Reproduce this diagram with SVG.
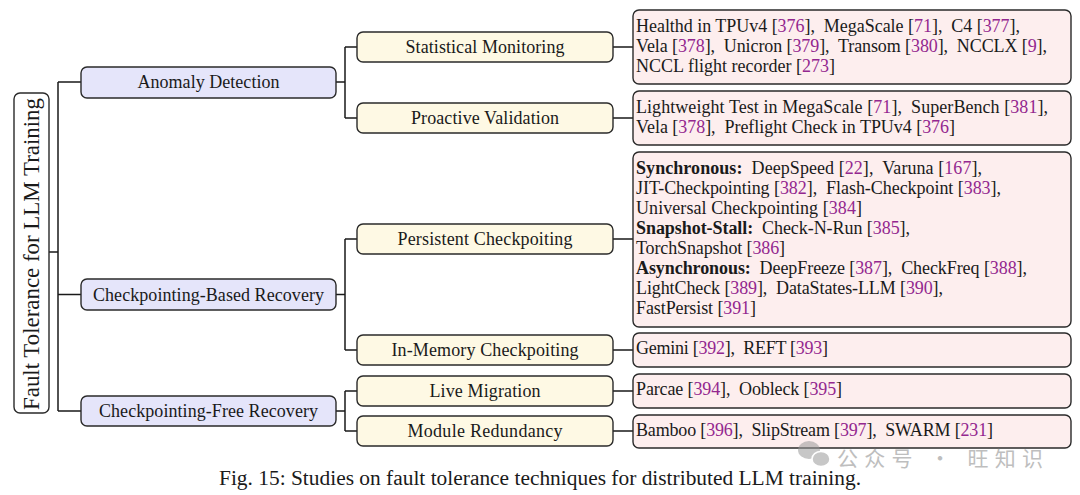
<svg xmlns="http://www.w3.org/2000/svg" width="1080" height="495" viewBox="0 0 1080 495">
<style>
text{font-family:"Liberation Serif","Times New Roman",serif;fill:#1a1a1a;}
.box{stroke:#2a2a2a;stroke-width:1.4;}
.root{fill:#ffffff;}
.l1{fill:#e5e5fa;}
.l2{fill:#fef9e4;}
.leaf{fill:#fdeeee;}
.t1{font-size:18px;text-anchor:middle;}
.tl{font-size:18px;}
.c{fill:#93278f;}
.b{font-weight:bold;}
.conn{fill:none;stroke:#1a1a1a;stroke-width:1.5;}
</style>
<rect width="1080" height="495" fill="#ffffff"/>

<g id="connectors">
<path class="conn" d="M49,252 H58 M58,82 V411 M58,82 H81 M58,294.5 H81 M58,411 H81"/>
<path class="conn" d="M336,82 H345 M345,47 V118 M345,47 H357 M345,118 H357"/>
<path class="conn" d="M336,294.5 H345 M345,239 V350 M345,239 H357 M345,350 H357"/>
<path class="conn" d="M336,411 H345 M345,391 V431 M345,391 H357 M345,431 H357"/>
<path class="conn" d="M613,47 H633 M613,118 H633 M613,239 H633 M613,350 H633 M613,391 H633 M613,431 H633"/>
</g>

<g id="root">
<rect class="box root" x="14" y="93" width="35" height="320" rx="6"/>
<text transform="translate(38.5,254) rotate(-90)" font-size="22.5" text-anchor="middle" textLength="312" lengthAdjust="spacingAndGlyphs">Fault Tolerance for LLM Training</text>
</g>

<g id="anomaly-detection">
<rect class="box l1" x="81" y="67" width="255" height="31" rx="6"/>
<text class="t1" x="208.5" y="88" textLength="142">Anomaly Detection</text>
</g>
<g id="checkpointing-based-recovery">
<rect class="box l1" x="81" y="279" width="255" height="31" rx="6"/>
<text class="t1" x="208.5" y="300.5" textLength="231">Checkpointing-Based Recovery</text>
</g>
<g id="checkpointing-free-recovery">
<rect class="box l1" x="81" y="396" width="255" height="30" rx="6"/>
<text class="t1" x="208.5" y="417" textLength="219">Checkpointing-Free Recovery</text>
</g>

<g id="statistical-monitoring">
<rect class="box l2" x="357" y="32" width="256" height="30" rx="6"/>
<text class="t1" x="485" y="53" textLength="159">Statistical Monitoring</text>
</g>
<g id="proactive-validation">
<rect class="box l2" x="357" y="103" width="256" height="30" rx="6"/>
<text class="t1" x="485" y="124" textLength="148">Proactive Validation</text>
</g>
<g id="persistent-checkpoiting">
<rect class="box l2" x="357" y="224" width="256" height="30" rx="6"/>
<text class="t1" x="485" y="245" textLength="175">Persistent Checkpoiting</text>
</g>
<g id="in-memory-checkpoiting">
<rect class="box l2" x="357" y="335" width="256" height="30" rx="6"/>
<text class="t1" x="485" y="356" textLength="187">In-Memory Checkpoiting</text>
</g>
<g id="live-migration">
<rect class="box l2" x="357" y="376" width="256" height="30" rx="6"/>
<text class="t1" x="485" y="397" textLength="111">Live Migration</text>
</g>
<g id="module-redundancy">
<rect class="box l2" x="357" y="416" width="256" height="30" rx="6"/>
<text class="t1" x="485" y="437" textLength="155">Module Redundancy</text>
</g>

<g id="leaf-statistical-monitoring">
<rect class="box leaf" x="633" y="10" width="438" height="74" rx="6"/>
<text class="tl" x="636" y="32" xml:space="preserve" textLength="384">Healthd in TPUv4 [<tspan class="c">376</tspan>],  MegaScale [<tspan class="c">71</tspan>],  C4 [<tspan class="c">377</tspan>],</text>
<text class="tl" x="636" y="52" xml:space="preserve" textLength="411">Vela [<tspan class="c">378</tspan>],  Unicron [<tspan class="c">379</tspan>],  Transom [<tspan class="c">380</tspan>],  NCCLX [<tspan class="c">9</tspan>],</text>
<text class="tl" x="636" y="72" xml:space="preserve" textLength="199">NCCL flight recorder [<tspan class="c">273</tspan>]</text>
</g>
<g id="leaf-proactive-validation">
<rect class="box leaf" x="633" y="91" width="438" height="54" rx="6"/>
<text class="tl" x="636" y="113" xml:space="preserve" textLength="412">Lightweight Test in MegaScale [<tspan class="c">71</tspan>],  SuperBench [<tspan class="c">381</tspan>],</text>
<text class="tl" x="636" y="133" xml:space="preserve" textLength="319">Vela [<tspan class="c">378</tspan>],  Preflight Check in TPUv4 [<tspan class="c">376</tspan>]</text>
</g>
<g id="leaf-persistent-checkpoiting">
<rect class="box leaf" x="633" y="152" width="438" height="175" rx="6"/>
<text class="tl" x="636" y="174" xml:space="preserve" textLength="346"><tspan class="b">Synchronous:</tspan>  DeepSpeed [<tspan class="c">22</tspan>],  Varuna [<tspan class="c">167</tspan>],</text>
<text class="tl" x="636" y="194" xml:space="preserve" textLength="365">JIT-Checkpointing [<tspan class="c">382</tspan>],  Flash-Checkpoint [<tspan class="c">383</tspan>],</text>
<text class="tl" x="636" y="214" xml:space="preserve" textLength="226">Universal Checkpointing [<tspan class="c">384</tspan>]</text>
<text class="tl" x="636" y="234" xml:space="preserve" textLength="274"><tspan class="b">Snapshot-Stall:</tspan>  Check-N-Run [<tspan class="c">385</tspan>],</text>
<text class="tl" x="636" y="254" xml:space="preserve" textLength="149">TorchSnapshot [<tspan class="c">386</tspan>]</text>
<text class="tl" x="636" y="274" xml:space="preserve" textLength="391"><tspan class="b">Asynchronous:</tspan>  DeepFreeze [<tspan class="c">387</tspan>],  CheckFreq [<tspan class="c">388</tspan>],</text>
<text class="tl" x="636" y="294" xml:space="preserve" textLength="307">LightCheck [<tspan class="c">389</tspan>],  DataStates-LLM [<tspan class="c">390</tspan>],</text>
<text class="tl" x="636" y="314" xml:space="preserve" textLength="120">FastPersist [<tspan class="c">391</tspan>]</text>
</g>
<g id="leaf-in-memory-checkpoiting">
<rect class="box leaf" x="633" y="333" width="438" height="34" rx="6"/>
<text class="tl" x="636" y="354" xml:space="preserve" textLength="192">Gemini [<tspan class="c">392</tspan>],  REFT [<tspan class="c">393</tspan>]</text>
</g>
<g id="leaf-live-migration">
<rect class="box leaf" x="633" y="374" width="438" height="34" rx="6"/>
<text class="tl" x="636" y="395" xml:space="preserve" textLength="206">Parcae [<tspan class="c">394</tspan>],  Oobleck [<tspan class="c">395</tspan>]</text>
</g>
<g id="leaf-module-redundancy">
<rect class="box leaf" x="633" y="415" width="438" height="33" rx="6"/>
<text class="tl" x="636" y="436" xml:space="preserve" textLength="357">Bamboo [<tspan class="c">396</tspan>],  SlipStream [<tspan class="c">397</tspan>],  SWARM [<tspan class="c">231</tspan>]</text>
</g>

<text x="540" y="485" font-size="20" text-anchor="middle" textLength="642" lengthAdjust="spacingAndGlyphs" fill="#222">Fig. 15: Studies on fault tolerance techniques for distributed LLM training.</text>

<g id="watermark" opacity="0.55">
<ellipse cx="809" cy="450" rx="11" ry="9" fill="#9a9a9a"/>
<ellipse cx="821" cy="459" rx="9" ry="7.5" fill="#9a9a9a" stroke="#ffffff" stroke-width="1.5"/>
<text x="837" y="466" font-size="21" textLength="206" style="font-family:'Noto Sans CJK SC',sans-serif;fill:#8a8a8a">公众号 · 旺知识</text>
</g>
</svg>
